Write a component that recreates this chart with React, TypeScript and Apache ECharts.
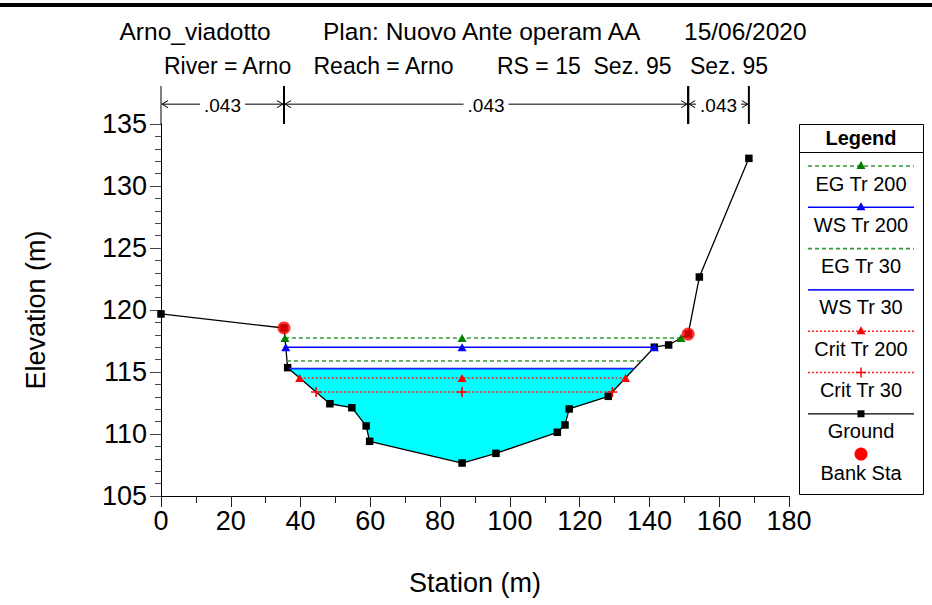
import React, { useEffect, useRef } from 'react';
import * as echarts from 'echarts';

// ---- Data ----
const groundStations = [0, 35.25, 36.3, 48.4, 54.7, 58.8, 59.8, 86.3, 96.0, 113.6, 115.8, 117.0, 128.2, 141.4, 145.5, 151.1, 154.3, 168.5];
const groundElevations = [119.68, 118.55, 115.35, 112.44, 112.12, 110.65, 109.41, 107.66, 108.44, 110.14, 110.73, 112.02, 113.04, 117.0, 117.18, 118.06, 122.66, 132.23];
const bankStations = [35.25, 151.1];
const bankElevations = [118.55, 118.06];
const profileNames = ['EG Tr 200', 'WS Tr 200', 'EG Tr 30', 'WS Tr 30', 'Crit Tr 200', 'Crit Tr 30'];
const profileElevations = [117.74, 117.0, 115.89, 115.27, 114.52, 113.39];
const manningBreaks = [0, 35.25, 151.1, 168.5];
const manningValues = [0.043, 0.043, 0.043];
const titleLine1 = ['Arno_viadotto', 'Plan: Nuovo Ante operam AA', '15/06/2020'];
const titleLine2 = ['River = Arno', 'Reach = Arno', 'RS = 15  Sez. 95', 'Sez. 95'];

const FONT = '"Liberation Sans", Arial, sans-serif';
const PLUS = 'path://M-0.8,-5L0.8,-5L0.8,-0.8L5,-0.8L5,0.8L0.8,0.8L0.8,5L-0.8,5L-0.8,0.8L-5,0.8L-5,-0.8L-0.8,-0.8Z';

const profileStyles = [
  { line: '#339933', sym: '#008000', type: [4, 3], width: 1.6, symbol: 'triangle', markers: true },
  { line: '#0000ff', sym: '#0000ff', type: 'solid', width: 1.6, symbol: 'triangle', markers: true },
  { line: '#339933', sym: '#008000', type: [4, 3], width: 1.6, symbol: 'none', markers: false },
  { line: '#2020ff', sym: '#2020ff', type: 'solid', width: 1.8, symbol: 'none', markers: false },
  { line: '#ff2020', sym: '#ff0000', type: [2, 2], width: 1.4, symbol: 'triangle', markers: true },
  { line: '#ff2020', sym: '#ff0000', type: [2, 2], width: 1.4, symbol: PLUS, markers: true },
];

function interp(a: number, b: number, level: number) {
  const ea = groundElevations[a], eb = groundElevations[b];
  return groundStations[a] + ((level - ea) / (eb - ea)) * (groundStations[b] - groundStations[a]);
}

function crossings(level: number) {
  const n = groundElevations.length;
  let iMin = 0;
  groundElevations.forEach((e, i) => { if (e < groundElevations[iMin]) iMin = i; });
  let i = iMin;
  while (i > 0 && groundElevations[i - 1] < level) i--;
  const xl = i > 0 ? interp(i - 1, i, level) : groundStations[0];
  let j = iMin;
  while (j < n - 1 && groundElevations[j + 1] < level) j++;
  const xr = j < n - 1 ? interp(j, j + 1, level) : groundStations[n - 1];
  return { xl, xr, i, j, thalweg: groundStations[iMin] };
}

export default function App() {
  const ref = useRef<HTMLDivElement>(null);
  useEffect(() => {
    if (!ref.current) return;
    const chart = echarts.init(ref.current, undefined, { renderer: 'svg' });

    // water fill polygon under WS Tr 30
    const ws30 = profileElevations[3];
    const c30 = crossings(ws30);
    const poly: number[][] = [[c30.xl, ws30]];
    for (let k = c30.i; k <= c30.j; k++) poly.push([groundStations[k], groundElevations[k]]);
    poly.push([c30.xr, ws30]);

    const profileSeries = profileNames.map((name, idx) => {
      const lvl = profileElevations[idx];
      const c = crossings(lvl);
      const st = profileStyles[idx];
      return {
        name,
        type: 'line',
        z: 4,
        data: [[c.xl, lvl], [c.thalweg, lvl], [c.xr, lvl]],
        symbol: st.symbol,
        symbolSize: st.symbol === 'triangle' ? [9, 8] : 10,
        showSymbol: st.markers,
        lineStyle: { color: st.line, width: st.width, type: st.type },
        itemStyle: { color: st.sym },
        silent: true,
      };
    });

    const nTop = 138.06;
    const nArrow = 136.6;
    const nBottom = 135;

    // legend graphics
    const legendItems = [...profileNames, 'Ground', 'Bank Sta'];
    const legendChildren: any[] = [
      { type: 'rect', shape: { x: 799.5, y: 124.5, width: 124, height: 370 }, style: { fill: '#fff', stroke: '#000', lineWidth: 1 } },
      { type: 'line', shape: { x1: 799.5, y1: 152.5, x2: 923.5, y2: 152.5 }, style: { stroke: '#000', lineWidth: 1 } },
      { type: 'text', x: 861, y: 138, style: { text: 'Legend', font: `bold 20px ${FONT}`, fill: '#000', align: 'center', verticalAlign: 'middle' } },
    ];
    legendItems.forEach((label, i) => {
      const ly = 166 + i * 41.3;
      const ty = ly + 17.5;
      if (i < 6) {
        const st = profileStyles[i];
        legendChildren.push({ type: 'line', shape: { x1: 808, y1: ly, x2: 914, y2: ly }, style: { stroke: st.line, lineWidth: st.width, lineDash: st.type === 'solid' ? null : st.type } });
        if (st.markers && st.symbol === 'triangle') {
          legendChildren.push({ type: 'polygon', shape: { points: [[861, ly - 5], [865.5, ly + 3], [856.5, ly + 3]] }, style: { fill: st.sym } });
        } else if (st.markers) {
          legendChildren.push({ type: 'line', shape: { x1: 861, y1: ly - 5, x2: 861, y2: ly + 5 }, style: { stroke: st.sym, lineWidth: 1.5 } });
          legendChildren.push({ type: 'line', shape: { x1: 856, y1: ly, x2: 866, y2: ly }, style: { stroke: st.sym, lineWidth: 1.5 } });
        }
      } else if (i === 6) {
        legendChildren.push({ type: 'line', shape: { x1: 808, y1: ly, x2: 914, y2: ly }, style: { stroke: '#000', lineWidth: 1.3 } });
        legendChildren.push({ type: 'rect', shape: { x: 857.5, y: ly - 3.5, width: 7, height: 7 }, style: { fill: '#000' } });
      } else {
        legendChildren.push({ type: 'circle', shape: { cx: 861, cy: ly - 1, r: 6.5 }, style: { fill: '#ff0000' } });
      }
      legendChildren.push({ type: 'text', x: 861, y: ty, style: { text: label, font: `20px ${FONT}`, fill: '#000', align: 'center', verticalAlign: 'middle' } });
    });

    const titleX1 = [119.5, 323, 684];
    const titleX2 = [164, 313.5, 497, 690];
    const titleTexts: any[] = [];
    titleLine1.forEach((t, i) => titleTexts.push({ type: 'text', x: titleX1[i], y: 31, style: { text: t, font: `24.5px ${FONT}`, fill: '#000', align: 'left', verticalAlign: 'middle' } }));
    titleLine2.forEach((t, i) => titleTexts.push({ type: 'text', x: titleX2[i], y: 66.3, style: { text: t, font: `23px ${FONT}`, fill: '#000', align: 'left', verticalAlign: 'middle' } }));

    chart.setOption({
      animation: false,
      backgroundColor: '#fff',
      grid: { left: 161, right: 143, top: 124, bottom: 109, containLabel: false },
      xAxis: {
        type: 'value', min: 0, max: 180, interval: 20,
        name: 'Station (m)', nameLocation: 'middle', nameGap: 73,
        nameTextStyle: { fontFamily: FONT, fontSize: 27, color: '#000' },
        axisLine: { lineStyle: { color: '#000', width: 1 } },
        axisTick: { show: true, length: 11, lineStyle: { color: '#222' } },
        minorTick: { show: true, splitNumber: 2, length: 7, lineStyle: { color: '#222' } },
        axisLabel: { fontFamily: FONT, fontSize: 27, color: '#000', margin: 11 },
        splitLine: { show: false },
      },
      yAxis: {
        type: 'value', min: 105, max: 135, interval: 5,
        name: 'Elevation (m)', nameLocation: 'middle', nameGap: 112, nameRotate: 90,
        nameTextStyle: { fontFamily: FONT, fontSize: 27, color: '#000' },
        axisLine: { show: true, lineStyle: { color: '#000', width: 1 } },
        axisTick: { show: true, length: 11, lineStyle: { color: '#444' } },
        minorTick: { show: true, splitNumber: 5, length: 6, lineStyle: { color: '#444' } },
        axisLabel: { fontFamily: FONT, fontSize: 27, color: '#000', margin: 14 },
        splitLine: { show: false },
      },
      graphic: [
        { type: 'rect', shape: { x: 0, y: 3, width: 932, height: 4 }, style: { fill: '#000' } },
        ...titleTexts,
        { type: 'group', children: legendChildren },
      ],
      series: [
        {
          type: 'custom', z: 1, clip: true, data: [[86, 110]], silent: true,
          renderItem: (_p: any, api: any) => ({
            type: 'polygon',
            shape: { points: poly.map((pt) => api.coord(pt)) },
            style: { fill: '#00ffff' },
          }),
        },
        {
          name: 'Ground', type: 'line', z: 3, silent: true,
          data: groundStations.map((s, i) => [s, groundElevations[i]]),
          symbol: 'rect', symbolSize: 7.5, showSymbol: true,
          lineStyle: { color: '#000', width: 1.3 }, itemStyle: { color: '#000' },
        },
        ...profileSeries,
        {
          name: 'Bank Sta', type: 'scatter', z: 6, silent: true,
          data: bankStations.map((s, i) => [s, bankElevations[i]]),
          symbol: 'circle', symbolSize: 13, itemStyle: { color: '#ff0000', borderWidth: 0 },
        },
        {
          type: 'custom', z: 5, clip: false, silent: true,
          data: manningValues.map((n, i) => [manningBreaks[i], manningBreaks[i + 1], n]),
          renderItem: (_p: any, api: any) => {
            const x0 = api.value(0), x1 = api.value(1), n = api.value(2);
            const t0 = api.coord([x0, nTop]), b0 = api.coord([x0, nBottom]);
            const t1 = api.coord([x1, nTop]), b1 = api.coord([x1, nBottom]);
            const a0 = api.coord([x0, nArrow]), a1 = api.coord([x1, nArrow]);
            const y = a0[1];
            const lx = a0[0] + 1, rx = a1[0] - 1;
            const label = n.toFixed(3).replace(/^0/, '');
            return {
              type: 'group',
              children: [
                { type: 'line', shape: { x1: t0[0], y1: t0[1], x2: b0[0], y2: b0[1] }, style: { stroke: '#000', lineWidth: x0 === 0 ? 1 : 2 } },
                { type: 'line', shape: { x1: t1[0], y1: t1[1], x2: b1[0], y2: b1[1] }, style: { stroke: '#000', lineWidth: 2 } },
                { type: 'line', shape: { x1: lx, y1: y, x2: rx, y2: y }, style: { stroke: '#000', lineWidth: 1 } },
                { type: 'polyline', shape: { points: [[lx + 6, y - 3.5], [lx, y], [lx + 6, y + 3.5]] }, style: { stroke: '#000', lineWidth: 1, fill: null } },
                { type: 'polyline', shape: { points: [[rx - 6, y - 3.5], [rx, y], [rx - 6, y + 3.5]] }, style: { stroke: '#000', lineWidth: 1, fill: null } },
                { type: 'text', x: (a0[0] + a1[0]) / 2, y: y + 1.5, style: { text: label, font: `19px ${FONT}`, fill: '#000', align: 'center', verticalAlign: 'middle', backgroundColor: '#fff', padding: [0, 4] } },
              ],
            };
          },
        },
      ],
    });
    return () => chart.dispose();
  }, []);
  return <div ref={ref} style={{ position: 'absolute', left: 0, top: 0, width: 932, height: 605 }} />;
}
